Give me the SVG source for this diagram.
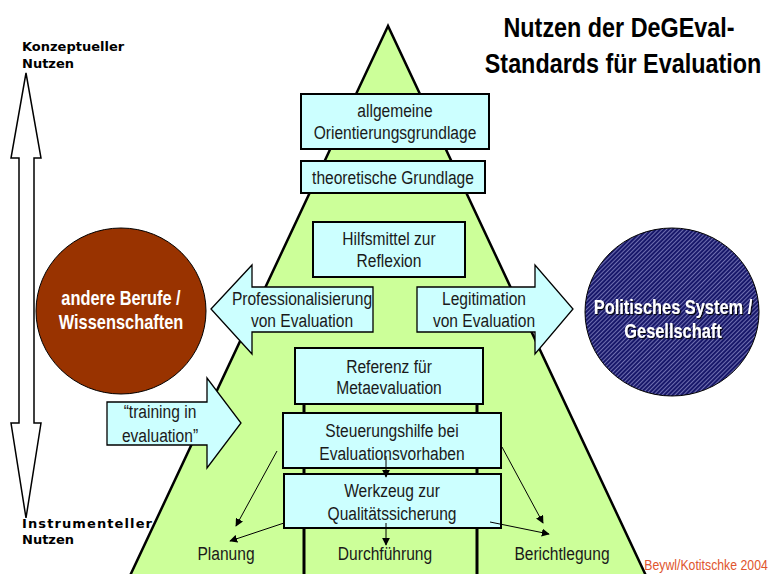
<svg xmlns="http://www.w3.org/2000/svg" width="770" height="574" viewBox="0 0 770 574">
  <style>
    /* condensed sans: regular face squeezed to narrow proportions around each text's own centre */
    .n { font-family: "Liberation Sans", Arial, sans-serif; text-anchor: middle; transform-box: fill-box; transform-origin: center; transform: scaleX(0.82); }
    .t { font-size: 19px; fill: #1a1a1a; }
    .circ { font-size: 20px; font-weight: bold; fill: #fff; }
    .box { fill: #CCFFFF; stroke: #000; stroke-width: 2; }
    .arr { fill: #CCFFFF; stroke: #000; stroke-width: 1.3; }
    .conn { stroke: #000; stroke-width: 1; fill: none; marker-end: url(#head); }
    .pillar { stroke: #000; stroke-width: 3; }
    .side { font-family: "DejaVu Sans", Verdana, sans-serif; font-size: 13px; font-weight: bold; fill: #000; }
  </style>
  <defs>
    <marker id="head" viewBox="0 0 10 10" refX="9" refY="5" markerWidth="8" markerHeight="8" markerUnits="userSpaceOnUse" orient="auto">
      <path d="M0,0 L10,5 L0,10 z" fill="#000"/>
    </marker>
    <pattern id="hatch" patternUnits="userSpaceOnUse" width="3" height="3" patternTransform="rotate(45)">
      <rect width="3" height="3" fill="#18186a"/>
      <line x1="0.5" y1="0" x2="0.5" y2="3" stroke="#6f6fb0" stroke-width="1"/>
    </pattern>
    <filter id="shadow" x="-10%" y="-10%" width="120%" height="130%">
      <feDropShadow dx="1.2" dy="1.2" stdDeviation="0.4" flood-color="#000" flood-opacity="0.9"/>
    </filter>
  </defs>

  <rect width="770" height="574" fill="#fff"/>

  <!-- title -->
  <g id="title" font-size="28.5" font-weight="bold" fill="#000">
    <text class="n" x="619" y="37">Nutzen der DeGEval-</text>
    <text class="n" x="623" y="73">Standards für Evaluation</text>
  </g>

  <!-- vertical scale: conceptual to instrumental use -->
  <g id="scale">
    <polygon points="26,73 41,158 34,158 34,423 41,423 26,518 11,423 19,423 19,158 11,158" fill="#fff" stroke="#000" stroke-width="1.5"/>
    <text class="side" x="22" y="51">Konzeptueller</text>
    <text class="side" x="22" y="68">Nutzen</text>
    <text class="side" x="22" y="528" textLength="130">Instrumenteller</text>
    <text class="side" x="22" y="544">Nutzen</text>
  </g>

  <!-- pyramid -->
  <g id="pyramid">
    <polygon points="388,26 128,580 648,580" fill="#CCFF99" stroke="#000" stroke-width="2.5"/>
    <line class="pillar" x1="304" y1="404" x2="304" y2="580"/>
    <line class="pillar" x1="477" y1="404" x2="477" y2="580"/>
  </g>

  <!-- side circles -->
  <g id="berufe">
    <ellipse cx="121" cy="311" rx="85" ry="83" fill="#993300" stroke="#000" stroke-width="1"/>
    <text class="n circ" x="121" y="305">andere Berufe /</text>
    <text class="n circ" x="121" y="329">Wissenschaften</text>
  </g>
  <g id="politik">
    <ellipse cx="672" cy="312" rx="87" ry="84" fill="url(#hatch)" stroke="#000" stroke-width="1"/>
    <g filter="url(#shadow)">
      <text class="n circ" x="673" y="314">Politisches System /</text>
      <text class="n circ" x="673" y="338">Gesellschaft</text>
    </g>
  </g>

  <!-- boxes in the pyramid -->
  <g id="orientierung">
    <rect class="box" x="301" y="94" width="188" height="55"/>
    <text class="n t" x="395" y="117">allgemeine</text>
    <text class="n t" x="395" y="139">Orientierungsgrundlage</text>
  </g>
  <g id="theorie">
    <rect class="box" x="301" y="161" width="184" height="32"/>
    <text class="n t" x="393" y="184">theoretische Grundlage</text>
  </g>
  <g id="reflexion">
    <rect class="box" x="313" y="222" width="152" height="55"/>
    <text class="n t" x="389" y="245">Hilfsmittel zur</text>
    <text class="n t" x="389" y="267">Reflexion</text>
  </g>
  <g id="professionalisierung">
    <polygon class="arr" points="211,309 252,265 252,287 373,287 373,332 252,332 252,354"/>
    <text class="n t" x="302" y="305">Professionalisierung</text>
    <text class="n t" x="302" y="327">von Evaluation</text>
  </g>
  <g id="legitimation">
    <polygon class="arr" points="417,287 535,287 535,265 573,309 535,354 535,332 417,332"/>
    <text class="n t" x="484" y="305">Legitimation</text>
    <text class="n t" x="484" y="327">von Evaluation</text>
  </g>
  <g id="training">
    <polygon class="arr" points="107,402 207,402 207,378 241,423 207,468 207,445 107,445"/>
    <text class="n t" x="160" y="418">“training in</text>
    <text class="n t" x="160" y="442">evaluation”</text>
  </g>
  <g id="metaevaluation">
    <rect class="box" x="295" y="348" width="188" height="56"/>
    <text class="n t" x="389" y="373">Referenz für</text>
    <text class="n t" x="389" y="394">Metaevaluation</text>
  </g>
  <g id="steuerung">
    <rect class="box" x="283" y="413" width="218" height="55"/>
    <text class="n t" x="392" y="437">Steuerungshilfe bei</text>
    <text class="n t" x="392" y="460">Evaluationsvorhaben</text>
  </g>
  <g id="werkzeug">
    <rect class="box" x="284" y="474" width="217" height="54"/>
    <text class="n t" x="392" y="497">Werkzeug zur</text>
    <text class="n t" x="392" y="520">Qualitätssicherung</text>
  </g>

  <!-- phases at the base -->
  <g id="planung"><text class="n t" x="226" y="560">Planung</text></g>
  <g id="durchfuehrung"><text class="n t" x="385" y="560">Durchführung</text></g>
  <g id="berichtlegung"><text class="n t" x="562" y="560">Berichtlegung</text></g>

  <!-- connectors -->
  <g id="connectors">
    <line class="conn" x1="386" y1="456" x2="386" y2="477"/>
    <line class="conn" x1="386" y1="523" x2="386" y2="545"/>
    <line class="conn" x1="277" y1="451" x2="236" y2="526"/>
    <line class="conn" x1="284" y1="523" x2="230" y2="541"/>
    <line class="conn" x1="502" y1="447" x2="543" y2="523"/>
    <line class="conn" x1="490" y1="522" x2="549" y2="534"/>
  </g>

  <text class="n" x="706" y="570" font-size="15" fill="#E0552E">Beywl/Kotitschke 2004</text>
</svg>
